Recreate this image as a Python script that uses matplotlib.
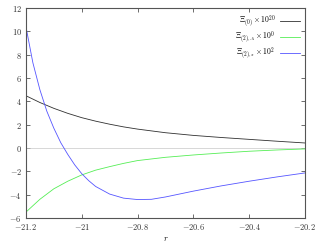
import numpy as np
import matplotlib
matplotlib.use('Agg')
import matplotlib.pyplot as plt

plt.rcParams['mathtext.fontset'] = 'cm'
plt.rcParams['font.family'] = 'serif'
plt.rcParams['font.serif'] = ['DejaVu Serif']

# black curve: Xi_(0) x 10^20
r_black = [-21.2, -21.15, -21.1, -21.05, -21.0, -20.95, -20.9, -20.85, -20.8,
           -20.7, -20.6, -20.5, -20.4, -20.3, -20.2]
xi0 = [4.48, 3.90, 3.40, 2.97, 2.60, 2.30, 2.04, 1.81, 1.62,
       1.31, 1.08, 0.90, 0.74, 0.58, 0.43]

# green curve: Xi_(2),A x 10^0
r_green = [-21.2, -21.15, -21.1, -21.05, -21.0, -20.95, -20.9, -20.85, -20.8,
           -20.7, -20.6, -20.5, -20.4, -20.3, -20.2]
xi2a = [-5.5, -4.4, -3.5, -2.85, -2.31, -1.9, -1.6, -1.32, -1.08,
        -0.8, -0.6, -0.43, -0.28, -0.17, -0.08]

# blue curve: Xi_(2),s x 10^2
r_blue = [-21.2, -21.175, -21.15, -21.125, -21.1, -21.075, -21.05, -21.025, -21.0,
          -20.975, -20.95, -20.9, -20.85, -20.8, -20.75, -20.7, -20.6, -20.5,
          -20.4, -20.3, -20.2]
xi2s = [10.4, 7.3, 5.0, 3.15, 1.7, 0.45, -0.55, -1.45, -2.2,
        -2.8, -3.3, -3.95, -4.3, -4.42, -4.4, -4.2, -3.7, -3.25,
        -2.85, -2.48, -2.14]

labels = [r'$\Xi_{(0)}\times 10^{20}$', r'$\Xi_{(2),A}\times 10^{0}$', r'$\Xi_{(2),s}\times 10^{2}$']

fig = plt.figure(figsize=(3.24, 2.43), dpi=100)
ax = fig.add_axes([0.080, 0.103, 0.861, 0.864])

ax.axhline(0, color='#c8c8c8', lw=0.5)
ax.plot(r_black, xi0, color='#303030', lw=0.6, label=labels[0])
ax.plot(r_green, xi2a, color='#55ee55', lw=0.6, label=labels[1])
ax.plot(r_blue, xi2s, color='#5555ff', lw=0.6, label=labels[2])

ax.set_xlim(-21.2, -20.2)
ax.set_ylim(-6, 12)
xt = [-21.2, -21.0, -20.8, -20.6, -20.4, -20.2]
yt = [-6, -4, -2, 0, 2, 4, 6, 8, 10, 12]
ax.set_xticks(xt)
ax.set_xticklabels(['$%g$' % v for v in xt])
ax.set_yticks(yt)
ax.set_yticklabels(['$%g$' % v for v in yt])
ax.tick_params(direction='in', length=3, width=0.5, labelsize=6, top=True, right=True, pad=3,
               colors='#333333')
for s in ax.spines.values():
    s.set_linewidth(0.8)
    s.set_color('#555555')
ax.set_xlabel('$r$', fontsize=6, labelpad=2)

leg = ax.legend(loc='upper right', frameon=False, fontsize=5.5, markerfirst=False,
                handlelength=2.5, labelspacing=-0.1, borderaxespad=0.5,
                handletextpad=0.7, borderpad=0.2)

fig.savefig('out.png', dpi=100)
